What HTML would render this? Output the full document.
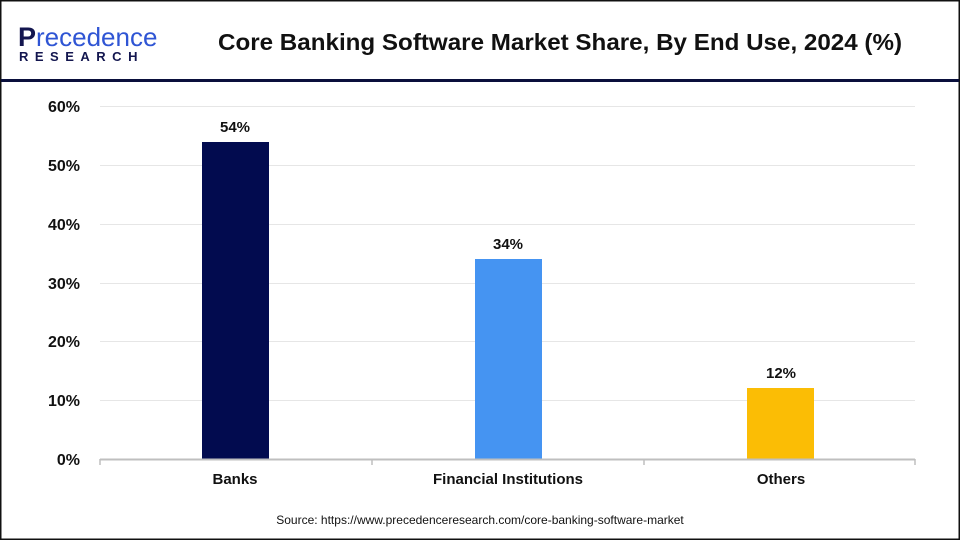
<!DOCTYPE html>
<html><head><style>
body{margin:0;width:960px;height:540px;overflow:hidden;background:#fff;font-family:"Liberation Sans",Arial,sans-serif;}
</style></head><body>
<svg width="960" height="540" xmlns="http://www.w3.org/2000/svg" font-family="Liberation Sans, Arial, sans-serif">
<rect x="0.5" y="0.5" width="959" height="539" fill="#fff" stroke="#111" stroke-width="2"/>
<rect x="1" y="79" width="958" height="3" fill="#0a0f3c"/>
<text x="18" y="46" font-size="27" fill="#13164f" font-weight="bold">P</text>
<text x="36" y="46" font-size="26" fill="#2f55d4">recedence</text>
<text x="19" y="61" font-size="13" fill="#13164f" font-weight="bold" letter-spacing="6.5">RESEARCH</text>
<text x="560" y="50" font-size="23" font-weight="bold" fill="#111" text-anchor="middle" textLength="684" lengthAdjust="spacingAndGlyphs">Core Banking Software Market Share, By End Use, 2024 (%)</text>
<g stroke="#e6e6e6" stroke-width="1">
<line x1="100" x2="915" y1="106.5" y2="106.5"/>
<line x1="100" x2="915" y1="165.5" y2="165.5"/>
<line x1="100" x2="915" y1="224.5" y2="224.5"/>
<line x1="100" x2="915" y1="283.5" y2="283.5"/>
<line x1="100" x2="915" y1="341.5" y2="341.5"/>
<line x1="100" x2="915" y1="400.5" y2="400.5"/>
</g>
<g font-size="16" font-weight="bold" fill="#111" text-anchor="end">
<text x="80" y="112">60%</text>
<text x="80" y="171">50%</text>
<text x="80" y="230">40%</text>
<text x="80" y="289">30%</text>
<text x="80" y="347">20%</text>
<text x="80" y="406">10%</text>
<text x="80" y="465">0%</text>
</g>
<rect x="202" y="142" width="67" height="317" fill="#020b4f"/>
<rect x="475" y="259" width="67" height="200" fill="#4594f2"/>
<rect x="747" y="388" width="67" height="71" fill="#fbbd05"/>
<line x1="100" x2="915" y1="459.5" y2="459.5" stroke="#bfbfbf" stroke-width="2"/>
<g stroke="#bfbfbf" stroke-width="1.5">
<line x1="100" x2="100" y1="459" y2="465"/><line x1="372" x2="372" y1="459" y2="465"/>
<line x1="644" x2="644" y1="459" y2="465"/><line x1="915" x2="915" y1="459" y2="465"/>
</g>
<g font-size="15" font-weight="bold" fill="#111" text-anchor="middle">
<text x="235" y="132">54%</text>
<text x="508" y="249">34%</text>
<text x="781" y="378">12%</text>
<text x="235" y="484">Banks</text>
<text x="508" y="484">Financial Institutions</text>
<text x="781" y="484">Others</text>
</g>
<text x="480" y="524" font-size="12" fill="#111" text-anchor="middle">Source: https://www.precedenceresearch.com/core-banking-software-market</text>
</svg>
</body></html>
